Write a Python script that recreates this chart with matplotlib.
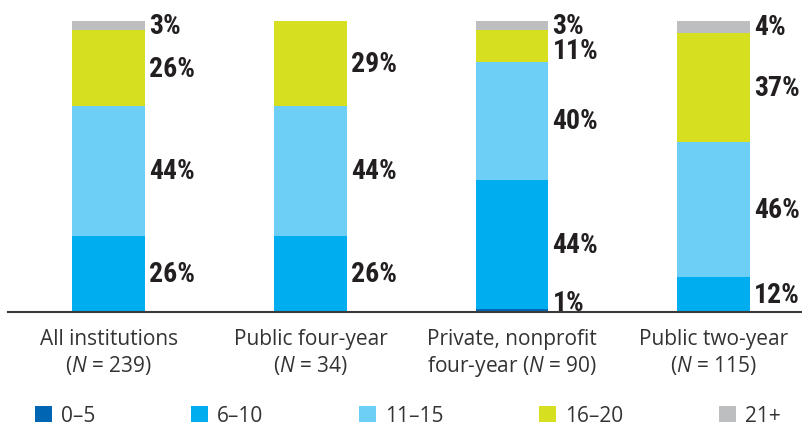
import numpy as np
import matplotlib.pyplot as plt
from matplotlib.patches import Patch
from matplotlib import font_manager

plt.rcParams['font.family'] = ['Open Sans', 'DejaVu Sans']
plt.rcParams['mathtext.fontset'] = 'custom'
plt.rcParams['mathtext.rm'] = 'Open Sans'
plt.rcParams['mathtext.it'] = 'Open Sans:italic'

categories = ['All institutions\n($N$ = 239)',
              'Public four-year\n($N$ = 34)',
              'Private, nonprofit\nfour-year ($N$ = 90)',
              'Public two-year\n($N$ = 115)']
bins = ['0–5', '6–10', '11–15', '16–20', '21+']

v_0_5 = [0, 0, 1, 0]
v_6_10 = [26, 26, 44, 12]
v_11_15 = [44, 44, 40, 46]
v_16_20 = [26, 29, 11, 37]
v_21_up = [3, 0, 3, 4]

series = [v_0_5, v_6_10, v_11_15, v_16_20, v_21_up]
colors = ['#0066b3', '#00aeef', '#6dcff6', '#d7df21', '#bcbec0']
text_dark = '#231f20'
text_grey = '#333333'

# pick a narrow bold face for the percentages if one is installed
installed = {f.name for f in font_manager.fontManager.ttflist}
narrow = 'DejaVu Sans'
for cand in ['Liberation Sans Narrow', 'DejaVu Sans Condensed', 'Roboto Condensed',
             'Open Sans Condensed', 'Noto Sans Condensed', 'Roboto']:
    if cand in installed:
        narrow = cand
        break

fig = plt.figure(figsize=(8.02, 4.27), dpi=100)
ax = fig.add_axes([8 / 802, (427 - 313) / 427, 794 / 802, 308 / 427])

x = np.arange(len(categories))
width = 0.3605
bottom = np.zeros(len(categories))
for k in range(len(series)):
    vals = np.array(series[k])
    ax.bar(x, vals, width, bottom=bottom, color=colors[k], linewidth=0)
    bottom += vals

# percentage labels to the right of each segment
for i in range(len(categories)):
    b = 0
    pos = []
    for k in range(len(series)):
        v = series[k][i]
        if v > 0:
            pos.append([b + v / 2, v])
        b += v
    pos[0][0] = max(pos[0][0], 3.4)
    for j in range(len(pos) - 2, -1, -1):
        if pos[j + 1][0] - pos[j][0] < 8.5:
            pos[j][0] = pos[j + 1][0] - 8.5
    for yc, v in pos:
        ax.text(i + width / 2 + 0.02, yc, f'{v}%', ha='left', va='center',
                fontsize=20, fontweight='bold', color=text_dark,
                family=[narrow, 'DejaVu Sans'])

# category labels under the axis
for i, lab in enumerate(categories):
    ax.annotate(lab, xy=(i, 0), xycoords=('data', 'axes fraction'),
                xytext=(0, -11.5), textcoords='offset points',
                ha='center', va='top', fontsize=15, color=text_grey,
                linespacing=1.2)

ax.set_xlim(-0.499, 3.437)
ax.set_ylim(0, 104.8)
for s in ['top', 'right', 'left']:
    ax.spines[s].set_visible(False)
ax.spines['bottom'].set_color('#3a3a3a')
ax.spines['bottom'].set_linewidth(1.5)
ax.set_xticks([])
ax.set_yticks([])

handles = [Patch(facecolor=colors[k], edgecolor='none') for k in range(len(bins))]
leg = fig.legend(handles, bins, loc='upper left', bbox_to_anchor=(35 / 802, 1 - 406 / 427),
                 ncol=5, frameon=False, fontsize=15, borderpad=0, borderaxespad=0,
                 handlelength=0.81, handleheight=0.81, handletextpad=0.43,
                 columnspacing=4.6)
for t in leg.get_texts():
    t.set_color(text_grey)

fig.savefig('out.png', dpi=100)
